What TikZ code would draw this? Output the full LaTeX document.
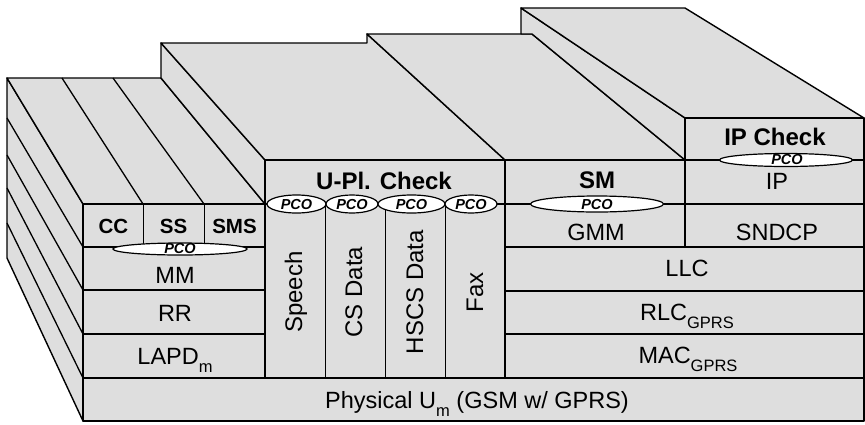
\documentclass[tikz,border=0pt]{standalone}
\usepackage{fontspec}
\setmainfont{Liberation Sans}
\definecolor{facegray}{gray}{0.87}
\newcommand\lowsub[1]{\raisebox{-8pt}{\fontsize{16.5}{17}\selectfont #1}}
\begin{document}
\begin{tikzpicture}[x=1pt,y=-1pt,
  face/.style={fill=facegray, draw=black, line width=1.4pt, line join=round},
  hline/.style={line width=1.3pt},
  vline/.style={line width=0.8pt},
  lab/.style={inner sep=0pt, anchor=base, font=\fontsize{23.5}{26}\selectfont},
  blab/.style={lab, font=\fontsize{24}{26}\selectfont\bfseries},
  slab/.style={lab, font=\fontsize{20.5}{22}\selectfont\bfseries},
  vlab/.style={lab, rotate=90, font=\fontsize{24}{26}\selectfont},
  pco/.style={inner sep=0pt, anchor=center, text height=10pt, text depth=0pt, font=\fontsize{14.5}{15}\selectfont\bfseries\itshape},
  pcoell/.style={fill=white, draw=black, line width=1.2pt}]
\useasboundingbox (0,0) rectangle (865,424);

% ---- left block: side and top faces
\draw[face] (7,78) -- (83,204) -- (83,421) -- (7,258) -- cycle;
\draw[line width=1.3pt] (7,118) -- (83,247) (7,155) -- (83,290) (7,188) -- (83,334) (7,223) -- (83,378);
\draw[face] (7,78) -- (161,78) -- (265,204) -- (83,204) -- cycle;
\draw[line width=1.3pt] (62,78) -- (143,204) (113,78) -- (204,204);

% ---- middle block side and top faces
\draw[face] (161,43) -- (265,160) -- (265,204) -- (161,78) -- cycle;
\draw[face] (161,43) -- (367,43) -- (367,34) -- (505,160) -- (265,160) -- cycle;

% ---- GPRS block top faces
\draw[face] (367,34) -- (532,34) -- (685,160) -- (505,160) -- cycle;
\draw[face] (521,8) -- (685,118) -- (685,160) -- (532,34) -- (521,34) -- cycle;
\draw[face] (521,8) -- (685,8) -- (864,118) -- (685,118) -- cycle;

% ---- front faces
\draw[face] (83,204) rectangle (265,378);
\draw[face] (265,160) rectangle (505,378);
\draw[face] (505,160) rectangle (685,247);
\draw[face] (685,118) rectangle (864,247);
\draw[face] (505,247) rectangle (864,378);
\draw[face] (83,378) rectangle (864,421);

% ---- internal layer lines
\draw[hline] (83,247) -- (265,247) (83,290) -- (265,290) (83,334) -- (265,334);
\draw[hline] (265,204) -- (864,204) (685,160) -- (864,160);
\draw[hline] (505,291) -- (864,291) (505,334) -- (864,334);
\draw[vline] (143,204) -- (143,247) (204,204) -- (204,247);
\draw[vline] (325,204) -- (325,378) (385,204) -- (385,378) (445,204) -- (445,378);

% ---- PCO ellipses
\draw[pcoell] (180,249) ellipse [x radius=67pt, y radius=6pt];
\node[pco] (pcoa) at (180,248) {PCO};
\draw[pcoell] (296.5,204) ellipse [x radius=29.5pt, y radius=9pt];
\node[pco] (pcob) at (296.5,204) {PCO};
\draw[pcoell] (352,204) ellipse [x radius=26pt, y radius=9pt];
\node[pco] (pcoc) at (352,204) {PCO};
\draw[pcoell] (411.5,204) ellipse [x radius=33.5pt, y radius=9pt];
\node[pco] (pcod) at (411.5,204) {PCO};
\draw[pcoell] (471,204) ellipse [x radius=26pt, y radius=9pt];
\node[pco] (pcoe) at (471,204) {PCO};
\draw[pcoell] (597,204) ellipse [x radius=66.5pt, y radius=8pt];
\node[pco] (pcof) at (597,204.5) {PCO};
\draw[pcoell] (786,160) ellipse [x radius=66.5pt, y radius=6.5pt];
\node[pco] (pcog) at (787,159) {PCO};

% ---- labels
\node[slab] (cc) at (113.5,233) {CC};
\node[slab] (ss) at (173.5,233) {SS};
\node[slab] (sms) at (234.5,233) {SMS};
\node[lab] (mm) at (175,283) {MM};
\node[lab] (rr) at (175,321) {RR};
\node[lab] (lapd) at (175,364) {LAPD\lowsub{m}};
\node[lab] (phys) at (477,408) {Physical U\lowsub{m} (GSM w/ GPRS)};
\node[blab] (upl) at (384,189) {U-Pl. Check};
\node[vlab] (speech) at (302,292) {Speech};
\node[vlab] (csdata) at (362,292) {CS Data};
\node[vlab] (hscs) at (423,292) {HSCS Data};
\node[vlab] (fax) at (483,292) {Fax};
\node[blab] (sm) at (597,188) {SM};
\node[blab] (ipc) at (775,145) {IP Check};
\node[lab] (ip) at (777,189) {IP};
\node[lab] (gmm) at (596,240) {GMM};
\node[lab] (sndcp) at (777,240) {SNDCP};
\node[lab] (llc) at (687,276) {LLC};
\node[lab] (rlc) at (687,320) {RLC\lowsub{GPRS}};
\node[lab] (mac) at (688,363) {MAC\lowsub{GPRS}};
\end{tikzpicture}
\end{document}
